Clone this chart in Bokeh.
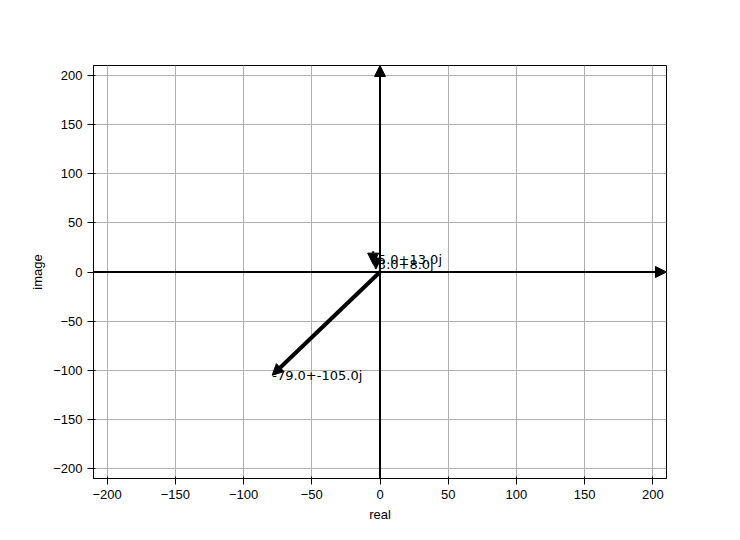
from bokeh.plotting import figure
from bokeh.models import Arrow, NormalHead, Range1d, FixedTicker, Label
from bokeh.embed import file_html
from bokeh.resources import INLINE

# vectors (start x, start y, end x, end y)
x_start = [-210, 0, 0, -3, -5]
y_start = [0, -210, 0, 16, 21]
x_end = [210, 0, -79, -3, -5]
y_end = [0, 210, -105, 3, 8]
widths = [2, 2, 4, 2, 2]
labels = ["-79.0+-105.0j", "-5.0+13.0j", "-3.0+8.0j"]
label_x = [-79, -5, -5]
label_y = [-105, 13, 8]
ticks = [-200, -150, -100, -50, 0, 50, 100, 150, 200]

p = figure(width=724, height=524, output_backend="svg", toolbar_location=None,
           x_range=Range1d(-210, 210), y_range=Range1d(-210, 210),
           x_axis_label="real", y_axis_label="image",
           min_border_left=93, min_border_right=58, min_border_top=65, min_border_bottom=43)
p.background_fill_color = "white"
p.outline_line_color = "black"
for ax in (p.xaxis, p.yaxis):
    ax.ticker = FixedTicker(ticks=ticks)
    ax.minor_tick_line_color = None
    ax.major_label_text_font_size = "13px"
    ax.axis_label_text_font_size = "13px"
    ax.axis_label_text_font_style = "normal"
    ax.axis_label_text_color = "black"
    ax.major_label_text_color = "black"
p.grid.grid_line_color = "#b0b0b0"
p.grid.grid_line_alpha = 1

for xs, ys, xe, ye, w in zip(x_start, y_start, x_end, y_end, widths):
    p.add_layout(Arrow(x_start=xs, y_start=ys, x_end=xe, y_end=ye, line_width=w,
                       end=NormalHead(size=11, fill_color="black", line_color="black")))

for t, lx, ly in zip(labels, label_x, label_y):
    p.add_layout(Label(x=lx, y=ly, text=t, text_font_size="13px", text_baseline="middle",
                       text_font="DejaVu Sans", text_color="black"))

open("out.html", "w").write(file_html(p, INLINE))
